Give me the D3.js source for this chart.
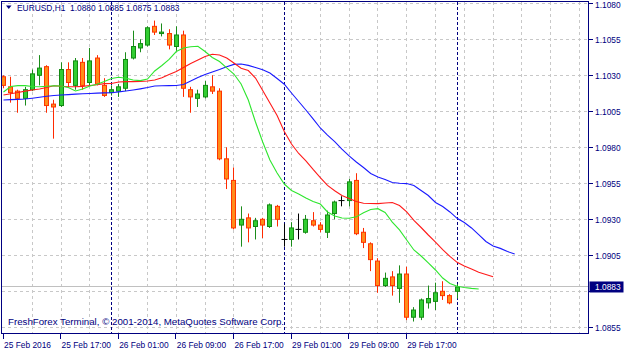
<!DOCTYPE html>
<html>
<head>
<meta charset="utf-8">
<script src="https://cdn.jsdelivr.net/npm/d3@7"></script>
<style>
body { margin: 0; background: #fff; }
svg text { font-family: "Liberation Sans", Arial, sans-serif; fill: #000080; }
</style>
</head>
<body>
<svg id="chart" width="625" height="354"></svg>
<script>
// EURUSD H1 with Alligator (jaw / teeth / lips)
var symbol = "EURUSD,H1";
var sessions = [["25 Feb", 9, 23], ["26 Feb", 0, 23], ["29 Feb", 0, 23], ["1 Mar", 0, 0]];
var barTimes = sessions.flatMap(function (s) {
    return d3.range(s[1], s[2] + 1).map(function (h) { return s[0] + " " + String(h).padStart(2, "0") + ":00"; });
});

var open = [1.1029,1.1022,1.1019,1.1014,1.1020,1.1030,1.1036,1.1010,1.1009,1.1034,
    1.1023,1.1039,1.1025,1.1042,1.1023,1.1018,1.1019,1.1021,1.1042,1.1049,
    1.1051,1.1064,1.1059,1.1059,1.1050,1.1058,1.1020,1.1014,1.1015,1.1022,
    1.1019,1.0972,1.0957,1.0926,1.0931,1.0925,1.0930,1.0925,1.0939,1.0916,
    1.0916,1.0923,1.0921,1.0929,1.0926,1.0921,1.0934,1.0943,1.0943,1.0957,
    1.0921,1.0913,1.0901,1.0884,1.0890,1.0882,1.0892,1.0862,1.0862,1.0872,
    1.0873,1.0880,1.0877,1.0880];
var high = [1.1030,1.1029,1.1020,1.1022,1.1034,1.1044,1.1037,1.1013,1.1039,1.1039,
    1.1042,1.1042,1.1049,1.1044,1.1028,1.1023,1.1024,1.1046,1.1061,1.1055,
    1.1064,1.1068,1.1066,1.1062,1.1064,1.1061,1.1022,1.1020,1.1026,1.1030,
    1.1021,1.0980,1.0966,1.0939,1.0934,1.0931,1.0931,1.0941,1.0940,1.0927,
    1.0928,1.0934,1.0933,1.0935,1.0928,1.0936,1.0943,1.0946,1.0958,1.0962,
    1.0924,1.0914,1.0903,1.0893,1.0894,1.0898,1.0897,1.0869,1.0875,1.0884,
    1.0886,1.0887,1.0878,1.0885];
var low = [1.1021,1.1011,1.1004,1.1009,1.1019,1.1023,1.1004,1.0986,1.1008,1.1022,
    1.1020,1.1020,1.1023,1.1023,1.1015,1.1016,1.1015,1.1019,1.1041,1.1046,
    1.1050,1.1058,1.1057,1.1048,1.1047,1.1015,1.1004,1.1008,1.1014,1.1017,
    1.0971,1.0951,1.0923,1.0911,1.0914,1.0916,1.0917,1.0924,1.0925,1.0911,
    1.0911,1.0916,1.0920,1.0925,1.0921,1.0917,1.0930,1.0939,1.0939,1.0919,
    1.0910,1.0894,1.0879,1.0883,1.0877,1.0872,1.0860,1.0859,1.0860,1.0868,
    1.0867,1.0874,1.0871,1.0875];
var close = [1.1023,1.1018,1.1014,1.1020,1.1031,1.1035,1.1009,1.1008,1.1034,1.1025,
    1.1040,1.1023,1.1040,1.1024,1.1016,1.1020,1.1022,1.1041,1.1050,1.1052,
    1.1063,1.1060,1.1060,1.1051,1.1058,1.1021,1.1015,1.1017,1.1023,1.1019,
    1.0972,1.0958,1.0924,1.0930,1.0924,1.0929,1.0926,1.0940,1.0930,1.0916,
    1.0924,1.0923,1.0930,1.0926,1.0923,1.0933,1.0942,1.0943,1.0956,1.0920,
    1.0914,1.0902,1.0884,1.0889,1.0884,1.0892,1.0862,1.0867,1.0874,1.0875,
    1.0879,1.0877,1.0872,1.0883];

// alligator lines, read per bar (they run past the last bar because of their shift)
var lips = [1.10184,1.10222,1.10228,1.10228,1.10222,1.10221,1.10224,1.10227,1.10226,1.10215,
    1.10191,1.10205,1.10226,1.10238,1.10257,1.10278,1.10286,1.10280,1.10267,1.10263,
    1.10274,1.10330,1.10368,1.10410,1.10465,1.10490,1.10498,1.10502,1.10465,1.10424,
    1.10396,1.10351,1.10309,1.10240,1.10128,1.09976,1.09837,1.09712,1.09622,1.09545,
    1.09500,1.09476,1.09448,1.09424,1.09406,1.09351,1.09323,1.09309,1.09307,1.09317,
    1.09346,1.09368,1.09374,1.09347,1.09281,1.09226,1.09156,1.09087,1.09045,1.08997,
    1.08948,1.08892,1.08854,1.08835,1.08826,1.08820,1.08816];
var teeth = [1.10163,1.10172,1.10181,1.10190,1.10198,1.10205,1.10215,1.10227,1.10224,1.10221,
    1.10221,1.10223,1.10229,1.10234,1.10242,1.10243,1.10253,1.10256,1.10256,1.10258,
    1.10260,1.10267,1.10283,1.10306,1.10326,1.10354,1.10382,1.10406,1.10431,1.10446,
    1.10441,1.10420,1.10385,1.10349,1.10333,1.10281,1.10194,1.10108,1.10021,1.09910,
    1.09823,1.09757,1.09705,1.09646,1.09590,1.09535,1.09498,1.09465,1.09445,1.09424,
    1.09411,1.09410,1.09409,1.09413,1.09417,1.09396,1.09351,1.09292,1.09243,1.09191,
    1.09142,1.09090,1.09042,1.09001,1.08976,1.08955,1.08932,1.08917,1.08901];
var jaw = [1.10128,1.10131,1.10133,1.10135,1.10141,1.10148,1.10155,1.10160,1.10163,1.10166,
    1.10169,1.10172,1.10174,1.10176,1.10178,1.10179,1.10185,1.10191,1.10198,1.10206,
    1.10215,1.10226,1.10227,1.10228,1.10229,1.10236,1.10260,1.10284,1.10306,1.10323,
    1.10340,1.10359,1.10376,1.10378,1.10369,1.10354,1.10338,1.10316,1.10278,1.10238,
    1.10177,1.10118,1.10059,1.09997,1.09934,1.09885,1.09840,1.09788,1.09740,1.09698,
    1.09660,1.09618,1.09594,1.09576,1.09556,1.09550,1.09548,1.09535,1.09500,1.09465,
    1.09417,1.09389,1.09351,1.09307,1.09278,1.09240,1.09194,1.09146,1.09115,1.09098,
    1.09076,1.09059];

var priceTicks = [1.0855,1.0880,1.0905,1.0930,1.0955,1.0980,1.1005,1.1030,1.1055,1.1080];
var timeTicks = ["25 Feb 09:00","25 Feb 17:00","26 Feb 01:00","26 Feb 09:00","26 Feb 17:00","29 Feb 01:00","29 Feb 09:00","29 Feb 17:00"];
var timeLabels = ["25 Feb 2016","25 Feb 17:00","26 Feb 01:00","26 Feb 09:00","26 Feb 17:00","29 Feb 01:00","29 Feb 09:00","29 Feb 17:00"];
var separators = ["26 Feb 00:00","29 Feb 00:00","1 Mar 00:00"];

var navy = "#000080";
var frame = { l: 1.5, t: 1.5, r: 588.5, b: 333.5 };

var svg = d3.select("#chart");
var x = d3.scaleLinear().domain([0, 80]).range([3.5, 579.5]);
var y = d3.scaleLinear().domain([1.0855, 1.1080]).range([327.3, 3.3]);
var px = function (v) { return Math.floor(v) + 0.5; };

svg.append("defs").append("clipPath").attr("id", "plot-clip")
    .append("rect").attr("x", frame.l + 0.5).attr("y", frame.t + 0.5)
    .attr("width", frame.r - frame.l - 1).attr("height", frame.b - frame.t - 1);

// grid
var grid = svg.append("g").attr("stroke", "#c8c8c8").attr("stroke-dasharray", "3,3")
    .attr("shape-rendering", "crispEdges");
grid.selectAll("line.h").data(priceTicks).join("line").attr("class", "h")
    .attr("x1", frame.l).attr("x2", frame.r)
    .attr("y1", function (d) { return px(y(d)); }).attr("y2", function (d) { return px(y(d)); });
grid.selectAll("line.v").data(d3.range(4, 81, 4)).join("line").attr("class", "v")
    .attr("x1", function (d) { return px(x(d)); }).attr("x2", function (d) { return px(x(d)); })
    .attr("y1", frame.t).attr("y2", frame.b);

// bid line
var last = close.length - 1;
svg.append("line").attr("x1", frame.l).attr("x2", frame.r)
    .attr("y1", px(y(close[last]))).attr("y2", px(y(close[last])))
    .attr("stroke", "#c0c0c0").attr("shape-rendering", "crispEdges");

// period separators
svg.append("g").selectAll("line").data(separators).join("line")
    .attr("x1", function (d) { return px(x(barTimes.indexOf(d))); })
    .attr("x2", function (d) { return px(x(barTimes.indexOf(d))); })
    .attr("y1", frame.t).attr("y2", frame.b)
    .attr("stroke", navy).attr("stroke-dasharray", "3,2").attr("shape-rendering", "crispEdges");

// candles
var bars = barTimes.map(function (t, i) {
    return { i: i, o: open[i], h: high[i], l: low[i], c: close[i] };
});
var plot = svg.append("g").attr("clip-path", "url(#plot-clip)");
var candle = plot.selectAll("g.candle").data(bars).join("g").attr("class", "candle");
var wickColor = function (d) { return d.c > d.o ? "#1b8c1b" : d.c < d.o ? "#ff2a00" : "#000"; };
candle.append("line")
    .attr("x1", function (d) { return px(x(d.i)); }).attr("x2", function (d) { return px(x(d.i)); })
    .attr("y1", function (d) { return y(d.h); }).attr("y2", function (d) { return y(d.l); })
    .attr("stroke", wickColor);
candle.filter(function (d) { return d.c !== d.o; }).append("rect")
    .attr("x", function (d) { return px(x(d.i)) - 2; })
    .attr("width", 4)
    .attr("y", function (d) { return y(Math.max(d.o, d.c)); })
    .attr("height", function (d) { return Math.max(1, y(Math.min(d.o, d.c)) - y(Math.max(d.o, d.c))); })
    .attr("fill", function (d) { return d.c > d.o ? "#32cd32" : "#ff8c1a"; })
    .attr("stroke", function (d) { return d.c > d.o ? "#138a13" : "#ff3300"; });
candle.filter(function (d) { return d.c === d.o; }).append("line")
    .attr("x1", function (d) { return px(x(d.i)) - 3; }).attr("x2", function (d) { return px(x(d.i)) + 3; })
    .attr("y1", function (d) { return y(d.o); }).attr("y2", function (d) { return y(d.o); })
    .attr("stroke", "#000");

// alligator
var line = d3.line().x(function (d, i) { return x(i); }).y(function (d) { return y(d); });
[[jaw, "#1a1aff"], [teeth, "#ff1a1a"], [lips, "#2ee62e"]].forEach(function (s) {
    plot.append("path").datum(s[0]).attr("d", line)
        .attr("fill", "none").attr("stroke", s[1]).attr("stroke-width", 1.1);
});

// frame
svg.append("rect").attr("x", frame.l).attr("y", frame.t)
    .attr("width", frame.r - frame.l).attr("height", frame.b - frame.t)
    .attr("fill", "none").attr("stroke", navy).attr("shape-rendering", "crispEdges");

// price axis
var last = close.length - 1;
var yAxis = svg.append("g").attr("transform", "translate(" + frame.r + ",0)")
    .call(d3.axisRight(y).tickValues(priceTicks).tickFormat(d3.format(".4f")).tickSize(4).tickPadding(2.5));
yAxis.select(".domain").remove();
yAxis.selectAll(".tick line").attr("stroke", navy).attr("shape-rendering", "crispEdges");
yAxis.selectAll(".tick text").attr("fill", navy).style("font-size", "8.4px")
    .style("font-family", "'Liberation Sans', Arial, sans-serif")
    .attr("dy", function (d) { return y(d) < 5 ? "0.45em" : "0.32em"; });
// the price tag covers the grid label next to the last close
yAxis.selectAll(".tick").filter(function (d) { return Math.abs(y(d) - y(close[last])) < 8; })
    .select("text").remove();

// current price tag
var tagY = y(close[last]);
svg.append("rect").attr("x", frame.r + 1).attr("y", tagY - 5.5).attr("width", 34).attr("height", 11)
    .attr("fill", navy);
svg.append("text").attr("x", frame.r + 6.5).attr("y", tagY + 3)
    .style("font-size", "8.4px").style("fill", "#fff").text(d3.format(".4f")(close[last]));

// time axis
var xAxis = svg.append("g").attr("transform", "translate(0," + frame.b + ")")
    .call(d3.axisBottom(x)
        .tickValues(timeTicks.map(function (t) { return barTimes.indexOf(t); }))
        .tickFormat(function (d, k) { return timeLabels[k]; })
        .tickSize(5).tickPadding(4));
xAxis.select(".domain").remove();
xAxis.selectAll(".tick line").attr("stroke", navy).attr("shape-rendering", "crispEdges")
    .attr("transform", "translate(-1,0)");
xAxis.selectAll(".tick text").attr("fill", navy).attr("text-anchor", "start").attr("x", 0)
    .style("font-size", "8.4px").style("font-family", "'Liberation Sans', Arial, sans-serif");

// title
svg.append("path").attr("d", "M6,5.5 L11.5,5.5 L8.75,9 Z").attr("fill", navy);
svg.append("text").attr("x", 17).attr("y", 10.5).style("font-size", "8.4px").text(symbol);
svg.append("text").attr("x", 70).attr("y", 10.5).style("font-size", "8.4px")
    .text([open[last], high[last], low[last], close[last]].map(d3.format(".4f")).join(" "));

// copyright
svg.append("text").attr("x", 8).attr("y", 325).style("font-size", "9.6px")
    .attr("textLength", 276).attr("lengthAdjust", "spacingAndGlyphs")
    .text("FreshForex Terminal, \u00a9 2001-2014, MetaQuotes Software Corp.");
</script>
</body>
</html>
